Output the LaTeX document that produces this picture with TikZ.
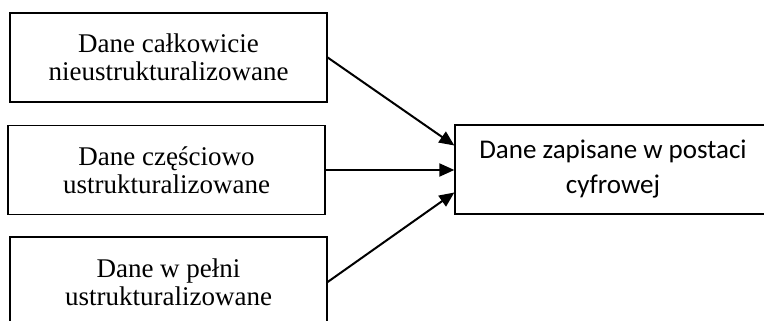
\documentclass[tikz,border=0pt]{standalone}
\usepackage{fontspec}
\setmainfont{Liberation Serif}
\newfontfamily\calib{Carlito}
\usetikzlibrary{arrows.meta}
\begin{document}
\begin{tikzpicture}[x=1pt,y=1pt,
  srcbox/.style={draw, line width=1.3pt, minimum width=317pt, minimum height=89pt, inner sep=0pt, align=center, font=\fontsize{27}{28}\selectfont},
  dstbox/.style={draw, line width=1.3pt, minimum width=316pt, minimum height=89pt, inner sep=0pt, align=center, font=\calib\fontsize{27}{35}\selectfont},
  conn/.style={line width=2pt, -{Triangle[length=15pt,width=13pt]}}]
\useasboundingbox (0,0) rectangle (764,321);
\clip (0,0) rectangle (764,321);
\node[srcbox] (a) at (168.5,263.5) {Dane całkowicie\\nieustrukturalizowane};
\node[srcbox] (b) at (166.5,151) {Dane częściowo\\ustrukturalizowane};
\node[srcbox, minimum height=90pt] (c) at (168.5,39) {Dane w pełni\\ustrukturalizowane};
\node[dstbox] (d) at (613,151.5) {Dane zapisane w postaci\\cyfrowej};
\coordinate (d1) at ([yshift=24pt]d.west);
\coordinate (d3) at ([yshift=-23pt]d.west);
\coordinate (d2) at (d.west |- b.east);
\draw[conn] (a.east) -- (d1);
\draw[conn] (b.east) -- (d2);
\draw[conn] (c.east) -- (d3);
\end{tikzpicture}
\end{document}
